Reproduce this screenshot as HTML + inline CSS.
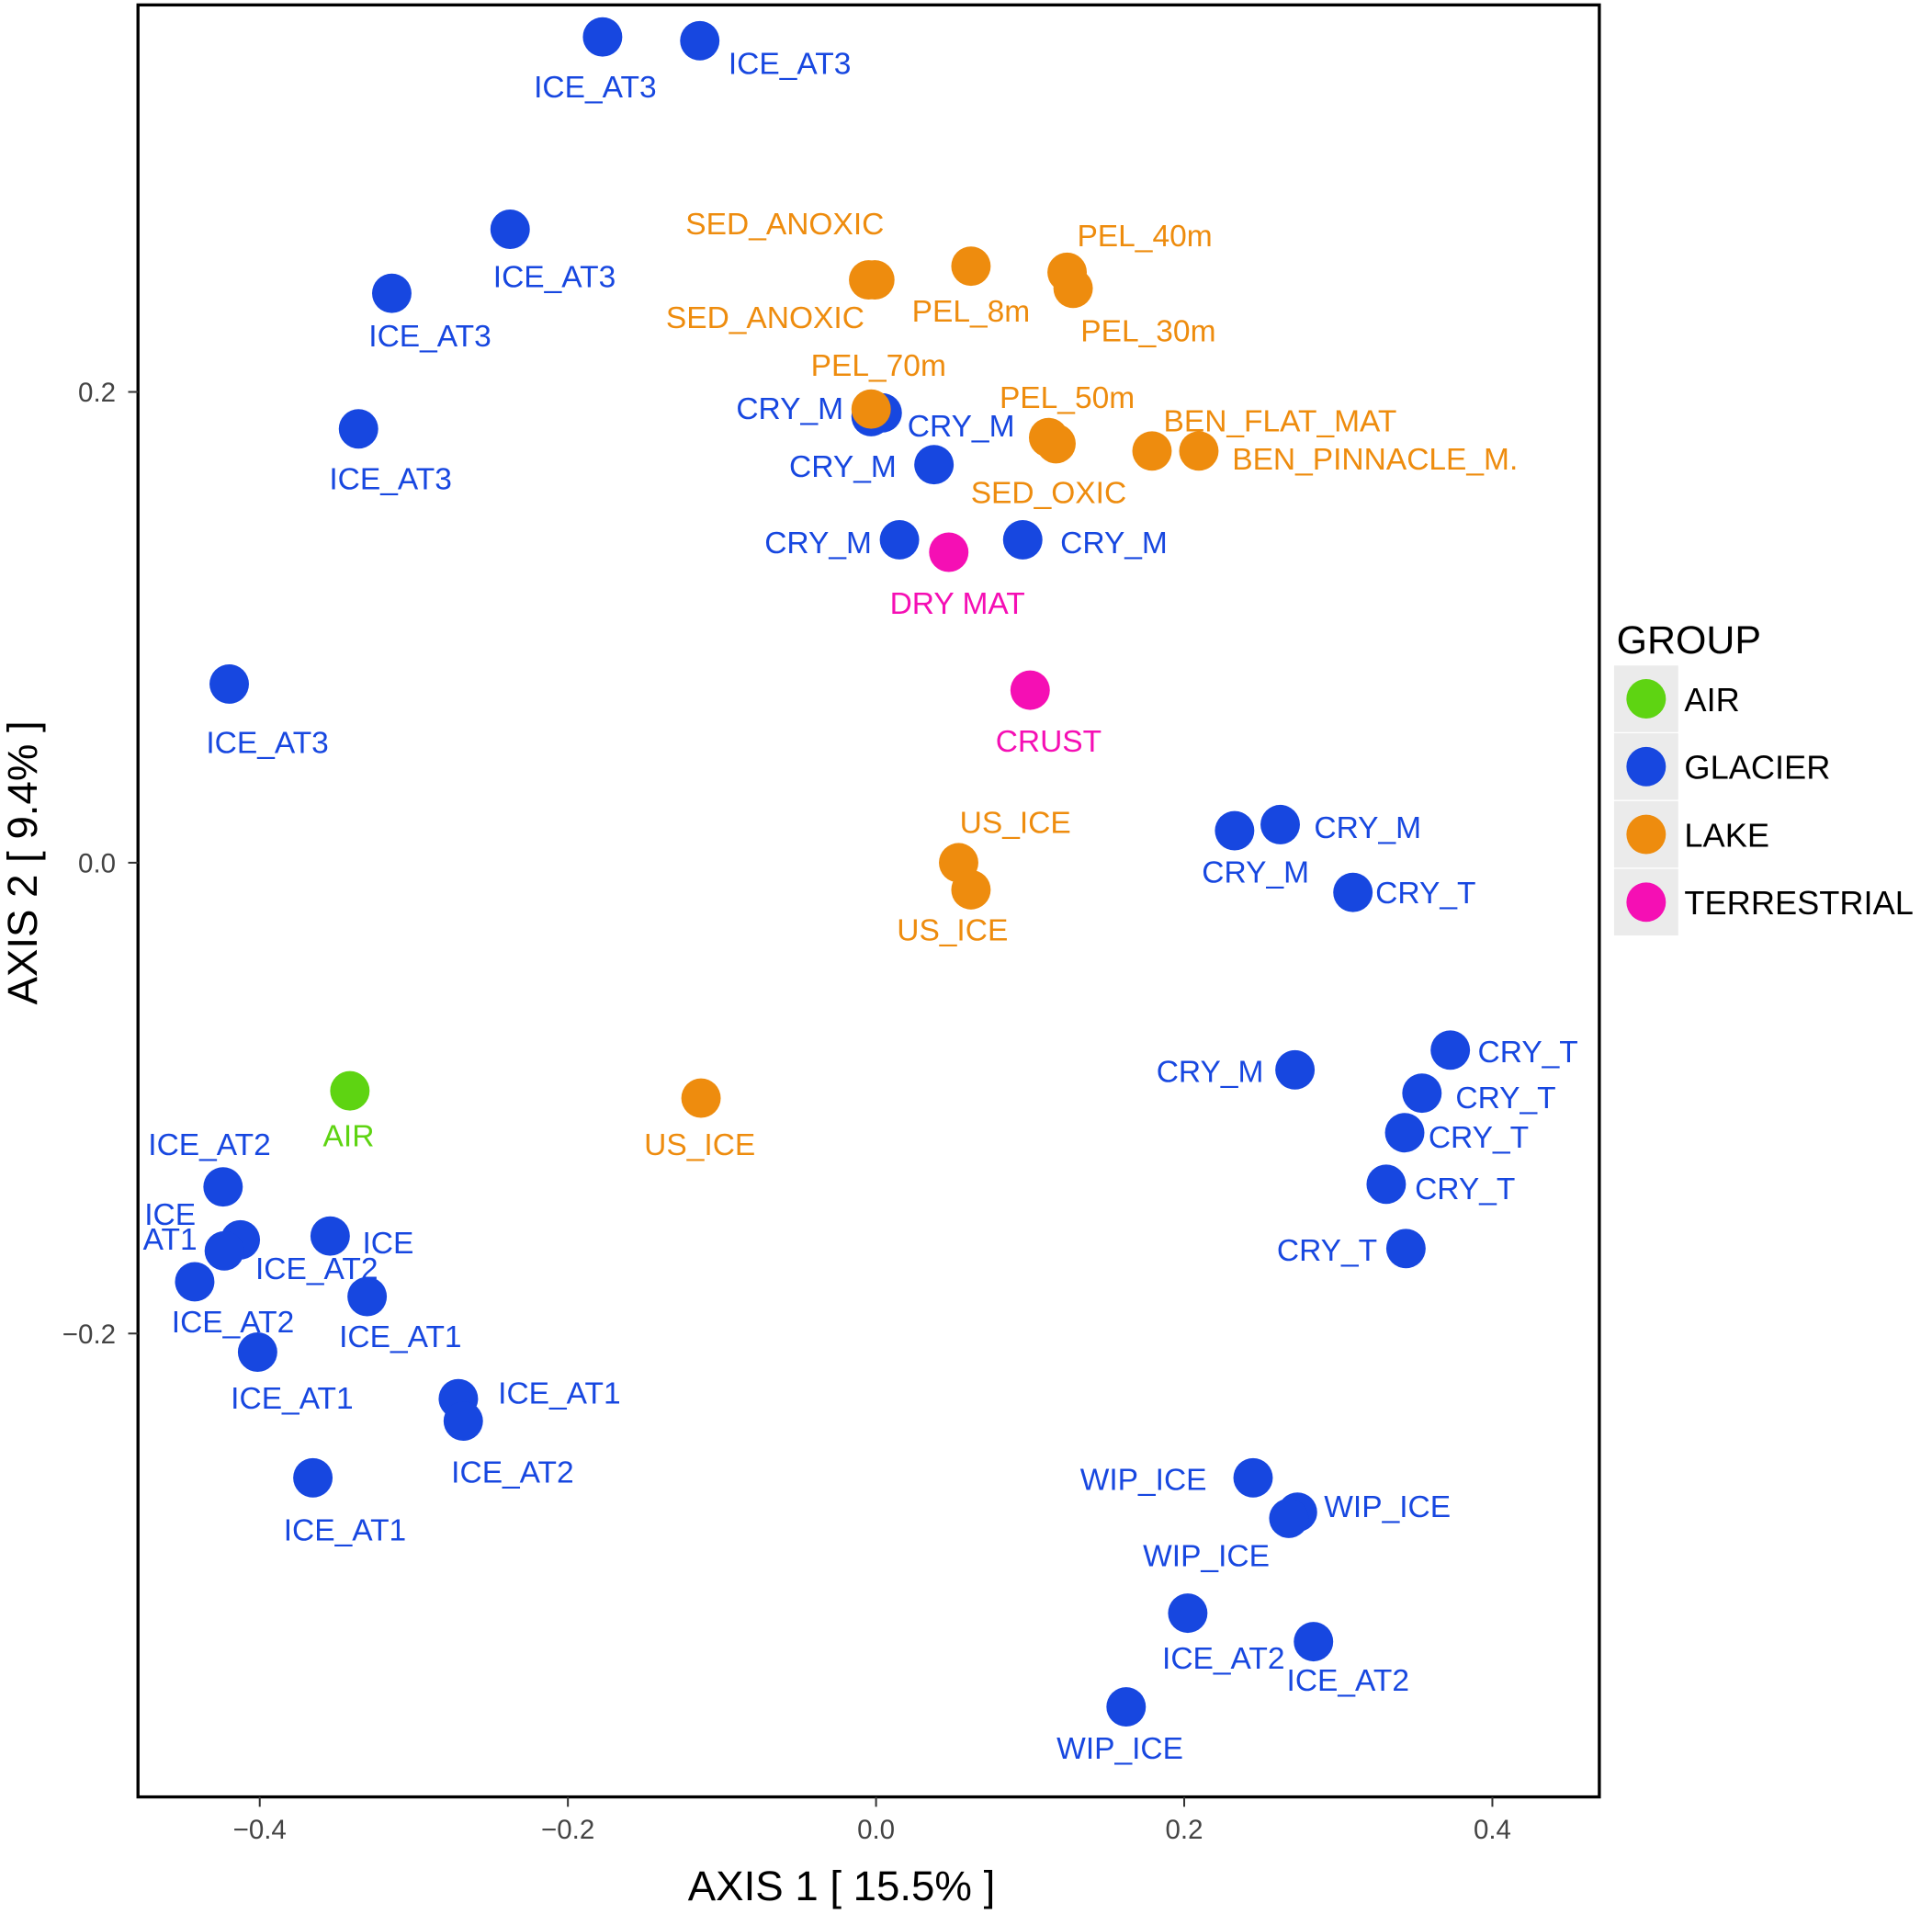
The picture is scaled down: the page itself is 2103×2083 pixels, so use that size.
<!DOCTYPE html>
<html><head><meta charset="utf-8"><style>
html,body{margin:0;padding:0;background:#fff;}
svg{display:block;font-family:"Liberation Sans",Arial,sans-serif;}
</style></head><body>
<svg id="chart" width="2103" height="2083" viewBox="0 0 1568 1553" preserveAspectRatio="none" xmlns="http://www.w3.org/2000/svg">
<rect x="0" y="0" width="1568" height="1553" fill="#fff"/>
<g id="marks"></g>
<g id="labels"></g>
<rect x="112" y="4" width="1186" height="1454" fill="none" stroke="#000" stroke-width="2.5"/>
<g id="axes"></g>
<text x="683" y="1542" font-size="34" text-anchor="middle" fill="#000">AXIS 1 [ 15.5% ]</text>
<text transform="translate(30,700) rotate(-90)" font-size="34" text-anchor="middle" fill="#000">AXIS 2 [ 9.4% ]</text>
<g>
<text x="1312" y="530" font-size="32" fill="#000">GROUP</text>
<g id="legend"></g>
</g>
</svg>
<script>
const xs=[-0.1775,-0.1144,-0.2375,-0.3143,-0.3359,-0.4198,-0.0032,0.0040,0.0376,0.0152,0.0952,0.2327,0.2623,0.3095,0.2719,0.3727,0.3543,0.3431,0.3311,0.3439,0.2447,0.2735,0.2679,0.2023,0.2839,0.1623,-0.4238,-0.4126,-0.4230,-0.4422,-0.3543,-0.3303,-0.4014,-0.2711,-0.2679,-0.3655,
-0.0048,-0.0008,0.0616,0.1240,0.1279,-0.0032,0.1120,0.1168,0.1791,0.2095,0.0536,0.0616,-0.1136,
0.0472,0.1000,-0.3415];
const ys=[0.3508,0.3492,0.2691,0.2419,0.1843,0.0759,0.1895,0.1911,0.1691,0.1372,0.1372,0.0136,0.0162,-0.0126,-0.0880,-0.0796,-0.0979,-0.1147,-0.1366,-0.1639,-0.2613,-0.2759,-0.2785,-0.3188,-0.3309,-0.3586,-0.1377,-0.1602,-0.1649,-0.1780,-0.1586,-0.1843,-0.2079,-0.2277,-0.2372,-0.2613,
0.2476,0.2476,0.2534,0.2508,0.2440,0.1927,0.1806,0.1780,0.1749,0.1749,0.0,-0.0115,-0.1000,
0.1319,0.0733,-0.0969];
const groups=[].concat(Array(36).fill("GLACIER"),Array(13).fill("LAKE"),["TERRESTRIAL","TERRESTRIAL","AIR"]);
const labels=["ICE_AT3","ICE_AT3","ICE_AT3","ICE_AT3","ICE_AT3","ICE_AT3","CRY_M","CRY_M","CRY_M","CRY_M","CRY_M","CRY_M","CRY_M","CRY_T","CRY_M","CRY_T","CRY_T","CRY_T","CRY_T","CRY_T","WIP_ICE","WIP_ICE","WIP_ICE","ICE_AT2","ICE_AT2","WIP_ICE","ICE_AT2","ICE_AT2","ICE\nAT1","ICE_AT2","ICE","ICE_AT1","ICE_AT1","ICE_AT1","ICE_AT2","ICE_AT1",
"SED_ANOXIC","SED_ANOXIC","PEL_8m","PEL_40m","PEL_30m","PEL_70m","PEL_50m","SED_OXIC","BEN_FLAT_MAT","BEN_PINNACLE_M.","US_ICE","US_ICE","US_ICE",
"DRY MAT","CRUST","AIR"];
const labelDx=[-6,73,36,31,26,31,-66,64,-74,-66,74,17,71,59,-69,63,68,60,64,-64,-89,73,-67,29,28,-5,-11,62,-44,31,47,27,28,82,40,26,
-68,-89,0,63,61,6,15,-6,104,143,46,-15,-1,7,15,-1];
const labelDy=[40,18,38,34,40,47,-7,10,1,2,2,33,2,0,1,1,3,3,3,1,1,-5,30,36,31,33,-35,23,-20,32,5,32,37,-5,41,42,
-46,30,36,-30,34,-36,-33,39,-25,6,-33,32,37,41,41,36];
const groupNames=["AIR","GLACIER","LAKE","TERRESTRIAL"];
const groupColors={"AIR":"#5ED412","GLACIER":"#1747E0","LAKE":"#EE8C0E","TERRESTRIAL":"#F50FB4"};
const xTicks=[-0.4,-0.2,0.0,0.2,0.4];
const yTicks=[-0.2,0.0,0.2];

const NS="http://www.w3.org/2000/svg";
function sx(v){return 711+v*1250.5;}
function sy(v){return 700-v*1910;}
function mk(t,a,p){const e=document.createElementNS(NS,t);for(const k in a)e.setAttribute(k,a[k]);p.appendChild(e);return e;}
const gm=document.getElementById('marks'),gl=document.getElementById('labels'),ga=document.getElementById('axes'),gleg=document.getElementById('legend');
for(let i=0;i<xs.length;i++){
  const c=mk('circle',{cx:sx(xs[i]),cy:sy(ys[i]),r:16,fill:groupColors[groups[i]]},gm);
  
  
}
for(let i=0;i<xs.length;i++){
  const lx=sx(xs[i])+labelDx[i],ly=sy(ys[i])+labelDy[i];
  const parts=labels[i].split("\n");
  const t=mk('text',{x:lx,y:ly+9-(parts.length-1)*10,'font-size':25,'text-anchor':'middle',fill:groupColors[groups[i]]},gl);
  
  
  if(parts.length>1){parts.forEach((p,j)=>{const s=mk('tspan',{x:lx,dy:j?20:0},t);s.textContent=p;});}
  else t.textContent=labels[i];
}
xTicks.forEach(v=>{
  const l=mk('line',{x1:sx(v),x2:sx(v),y1:1458,y2:1466,stroke:'#333','stroke-width':1.5},ga);
  
  
  const t=mk('text',{x:sx(v),y:1492,'font-size':22,'text-anchor':'middle',fill:'#444'},ga);
  
  
  t.textContent=(v<0?'\u2212':'')+Math.abs(v).toFixed(1);
});
yTicks.forEach(v=>{
  const l=mk('line',{x1:104,x2:112,y1:sy(v),y2:sy(v),stroke:'#333','stroke-width':1.5},ga);
  
  
  const t=mk('text',{x:94,y:sy(v)+8,'font-size':22,'text-anchor':'end',fill:'#444'},ga);
  
  
  t.textContent=(v<0?'\u2212':'')+Math.abs(v).toFixed(1);
});
groupNames.forEach((g,i)=>{
  const cy=567+i*55;
  const r=mk('rect',{x:1310,y:cy-27,width:52,height:54,fill:'#ebebeb'},gleg);
  
  
  const c=mk('circle',{cx:1336,cy:cy,r:16,fill:groupColors[g]},gleg);
  
  
  const t=mk('text',{x:1367,y:cy+10,'font-size':27,fill:'#000'},gleg);
  
  
  t.textContent=g;
});
</script>
</body></html>
